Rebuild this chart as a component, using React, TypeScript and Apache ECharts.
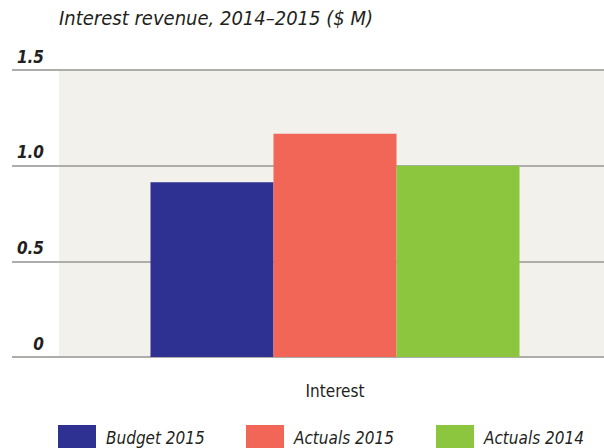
import React, { useEffect, useRef } from "react";
import * as echarts from "echarts";

const categories = ["Interest"];
const seriesNames = ["Budget 2015", "Actuals 2015", "Actuals 2014"];
const budget2015 = [0.913];
const actuals2015 = [1.167];
const actuals2014 = [1.0];
const yTicks = { min: 0, max: 1.5, interval: 0.5 };
const colors = ["#2e3192", "#f26657", "#8cc63f"];

const FONT = "'Liberation Sans Narrow', 'DejaVu Sans Condensed', 'Roboto', sans-serif";

export default function App() {
  const ref = useRef<HTMLDivElement>(null);
  useEffect(() => {
    if (!ref.current) return;
    const chart = echarts.init(ref.current, null, { renderer: "svg" });
    const values = [budget2015, actuals2015, actuals2014];
    const legendLefts = [58, 246, 436];
    const lineStyle = { color: "#aeadaa", width: 2 };
    chart.setOption({
      animation: false,
      textStyle: { fontFamily: FONT },
      title: {
        text: "Interest revenue, 2014–2015 ($ M)",
        left: 59,
        top: 8,
        padding: 0,
        textStyle: {
          fontFamily: FONT,
          fontStyle: "italic",
          fontWeight: "normal",
          fontSize: 20,
          color: "#231f20",
        },
      },
      legend: seriesNames.map((n, i) => ({
        data: [n],
        left: legendLefts[i],
        top: 425,
        padding: 0,
        itemWidth: 38,
        itemHeight: 26,
        itemGap: 0,
        icon: "rect",
        textStyle: {
          fontFamily: FONT,
          fontStyle: "italic",
          fontSize: 17,
          color: "#231f20",
          padding: [2, 0, 0, 5],
        },
      })),
      grid: [
        {
          left: 59,
          right: 0,
          top: 70,
          bottom: 91,
          show: true,
          backgroundColor: "#f2f1ec",
          borderWidth: 0,
        },
        {
          left: 66,
          right: 0,
          top: 70,
          bottom: 91,
        },
      ],
      xAxis: [
        {
          type: "category",
          gridIndex: 0,
          data: categories,
          show: false,
        },
        {
          type: "category",
          gridIndex: 1,
          data: categories,
          axisLine: { show: false },
          axisTick: { show: false },
          axisLabel: {
            margin: 25,
            fontFamily: FONT,
            fontSize: 17,
            color: "#231f20",
          },
        },
      ],
      yAxis: [
        {
          type: "value",
          gridIndex: 0,
          min: yTicks.min,
          max: yTicks.max,
          interval: yTicks.interval,
          axisLine: { show: false },
          axisTick: { show: true, length: 47, lineStyle },
          splitLine: { show: true, lineStyle },
          axisLabel: {
            margin: 15,
            align: "right",
            verticalAlign: "bottom",
            padding: [0, 0, 5, 0],
            fontFamily: FONT,
            fontStyle: "italic",
            fontWeight: "bold",
            fontSize: 17,
            color: "#231f20",
            formatter: (v: number) => (v === 0 ? "0" : v.toFixed(1)),
          },
        },
        {
          type: "value",
          gridIndex: 1,
          min: yTicks.min,
          max: yTicks.max,
          interval: yTicks.interval,
          show: false,
          splitLine: { show: false },
        },
      ],
      series: seriesNames.map((n, i) => ({
        name: n,
        type: "bar",
        xAxisIndex: 1,
        yAxisIndex: 1,
        data: values[i],
        barGap: "0%",
        barWidth: 123,
        itemStyle: { color: colors[i] },
        z: 3,
      })),
    });
    return () => chart.dispose();
  }, []);
  return <div ref={ref} style={{ width: 604, height: 448, position: "absolute", left: 0, top: 0 }} />;
}
